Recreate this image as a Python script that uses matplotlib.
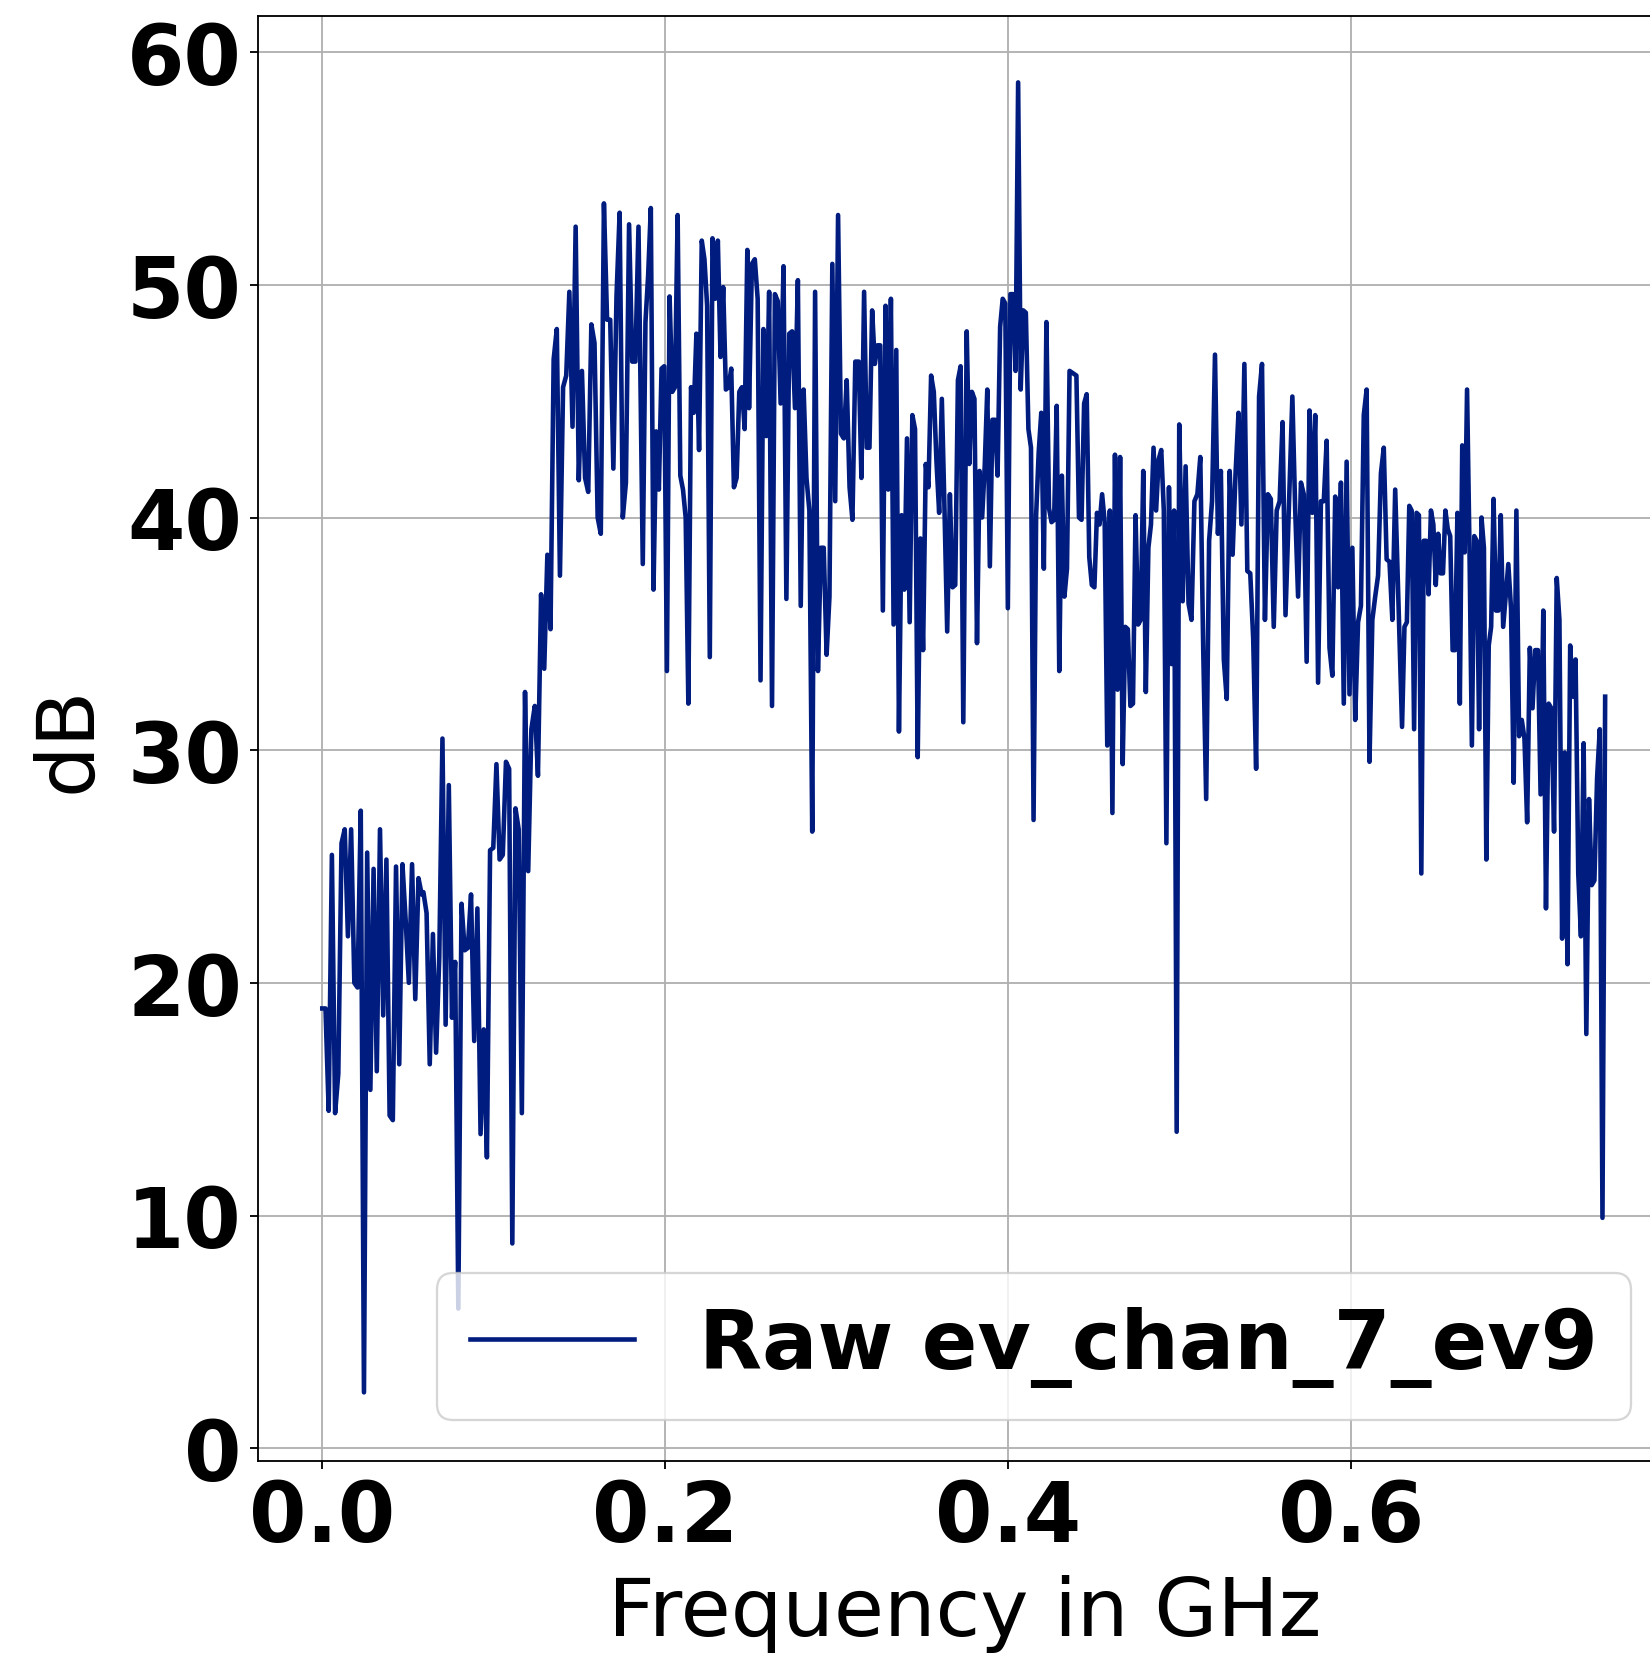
import matplotlib
matplotlib.use("Agg")
import matplotlib.pyplot as plt
import numpy as np

# dB values, one list per stretch of the frequency axis
seg_db = [
    [18.9, 18.9, 14.5, 25.5, 14.4, 16.1, 26.0, 26.6, 22.0, 26.6, 20.0, 19.8, 27.4, 2.4, 25.6, 15.4,
     24.9, 16.2, 26.6, 18.6, 25.3, 14.3, 14.1, 25.0, 16.5, 25.1, 22.7, 20.0, 25.1, 19.3, 24.5, 23.8],
    [23.9, 23.0, 16.5, 22.1, 17.0, 21.1, 30.5, 18.2, 28.5, 18.5, 20.9, 6.0, 23.4, 21.4, 21.5, 23.8,
     17.5, 23.2, 13.5, 18.0, 12.5, 25.7, 25.8, 29.4, 25.3, 25.5, 29.5, 29.2, 8.8, 27.5, 26.6, 14.4,
     32.5, 24.8, 30.9],
    [31.9, 28.9, 36.7, 33.5, 38.4, 35.2, 46.8, 48.1, 37.5, 45.6, 46.1, 49.7, 43.9, 52.5, 41.6, 46.3,
     41.7, 41.1, 48.3, 47.5, 40.0, 39.3, 53.5, 48.5, 48.5, 42.1, 49.5, 53.1, 40.0, 41.5, 52.6, 46.7,
     46.7, 52.5],
    [38.0, 48.4, 50.4, 53.3, 36.9, 43.7, 41.2, 46.4, 46.5, 33.4, 49.5, 45.4, 45.6, 53.0, 41.8, 41.2,
     40.0, 32.0, 45.6, 44.5, 47.9, 42.9, 51.9, 51.1, 49.1, 34.0, 52.0, 49.4, 51.9, 46.9, 49.9, 45.5,
     45.6, 46.4, 41.3, 41.7, 45.4, 45.6, 43.8, 51.5],
    [44.7, 50.9, 51.1, 49.4, 33.0, 48.1, 43.5, 49.7, 31.9, 49.6, 49.3, 44.9, 50.8, 36.5, 47.9, 48.0,
     44.7, 50.2, 36.2, 45.5, 41.7, 40.3, 26.5, 49.7, 33.4, 38.7, 38.7, 34.1, 36.6, 50.9, 40.7, 53.0,
     43.6, 43.4, 45.9, 41.3, 39.9, 46.7],
    [46.7, 41.7, 49.7, 43.0, 43.0, 48.9, 46.6, 47.4, 47.4, 36.0, 49.1, 41.2, 49.4, 35.4, 47.2, 30.8,
     40.1, 36.9, 43.4, 35.5, 44.4, 43.8, 29.7, 39.1, 34.3, 42.3, 41.3, 46.1, 45.4, 42.4, 40.2, 45.1,
     40.3, 35.1, 41.0, 37.0, 37.1, 45.9, 46.5, 31.2],
    [48.0, 42.3, 45.4, 45.1, 34.6, 42.0, 40.0, 42.2, 45.5, 37.9, 44.2, 44.2, 41.8, 48.2, 49.4, 49.2,
     36.1, 49.6, 49.6, 46.3, 58.7, 45.5, 48.9, 48.8, 43.8, 43.0, 27.0, 40.1, 42.8, 44.5, 37.8, 48.4,
     40.4, 39.8, 39.9, 44.8, 33.4, 41.8, 36.6, 37.8, 46.3],
    [46.1, 40.0, 39.9, 44.9, 45.3, 38.3, 37.1, 37.0, 40.2, 39.7, 41.0, 39.8, 30.2, 40.3, 27.3, 42.7,
     32.6, 42.6, 29.4, 35.3, 35.2, 31.9, 32.0, 40.1, 35.4, 35.6, 42.0, 32.5, 38.7, 39.7, 43.0, 40.3,
     42.5, 42.9, 40.3, 26.0, 41.3, 33.7, 40.3, 13.6, 44.0],
    [36.4, 42.2, 36.3, 35.6, 40.7, 41.0, 42.6, 34.3, 27.9, 39.0, 40.7, 47.0, 39.3, 42.0, 33.9, 32.2,
     42.0, 38.4, 41.9, 44.5, 39.7, 46.6, 37.7, 37.6, 34.8, 29.2, 45.2, 46.6, 35.6, 41.0, 40.8, 35.3,
     40.3, 40.7, 44.1, 35.8],
    [45.2, 40.3, 36.6, 41.5, 41.0, 33.8, 44.6, 40.2, 44.4, 32.9, 40.7, 40.7, 43.3, 34.4, 33.2, 40.9,
     37.0, 41.5, 32.0, 42.4, 32.4, 38.7, 31.3, 35.5, 36.2, 44.4, 45.5, 29.5, 35.6, 36.6, 37.5, 41.9,
     43.0, 38.2, 38.1, 35.6, 41.2],
    [31.0, 35.3, 35.5, 40.5, 40.3, 30.9, 40.2, 40.1, 24.7, 39.0, 39.0, 36.7, 40.3, 39.7, 37.1, 39.3,
     37.6, 37.6, 40.3, 39.5, 39.2, 34.3, 34.3, 40.2, 32.0, 43.1, 38.5, 45.5, 38.7, 30.2, 39.2, 39.0,
     30.9, 40.0, 38.7, 25.3, 34.5, 35.3, 40.8, 36.0, 36.0, 40.1, 35.3],
    [38.0, 36.1, 28.6, 40.3, 30.6, 31.3, 30.5, 26.9, 34.4, 31.8, 34.3, 34.3, 28.1, 36.0, 23.2, 32.0,
     31.8, 26.5, 37.4, 35.6, 21.9, 29.9, 20.8, 34.5, 32.3, 33.9, 24.7, 22.0, 30.3, 17.8, 27.9, 24.2,
     24.4, 28.8, 30.9, 9.9, 32.3],
]
# first / last frequency (GHz) of each stretch
seg_start = [0.0, 0.059, 0.124, 0.187, 0.249, 0.313, 0.376, 0.440, 0.502, 0.566, 0.630, 0.692]
seg_stop = [0.058, 0.122, 0.1845, 0.248, 0.311, 0.374, 0.436, 0.500, 0.562, 0.626, 0.689, 0.7485]

label = "Raw ev_chan_7_ev9"

freq = np.concatenate([np.linspace(a, b, len(s)) for a, b, s in zip(seg_start, seg_stop, seg_db)])
db = np.concatenate([np.array(s) for s in seg_db])

fig = plt.figure(figsize=(10, 10.048), dpi=165)
ax = fig.add_axes([258 / 1650, 1 - 1462 / 1658, 1414 / 1650, (1462 - 17) / 1658])

ax.plot(freq, db, color='#001c7f', linewidth=2.0, label=label)

ax.set_xlim(-0.0375, 0.7875)
ax.set_ylim(-0.55, 61.55)
ax.set_xticks([0.0, 0.2, 0.4, 0.6])
ax.set_yticks([0, 10, 20, 30, 40, 50, 60])
ax.grid(True)

for t in ax.get_xticklabels() + ax.get_yticklabels():
    t.set_fontsize(36)
    t.set_fontweight('bold')

ax.set_xlabel('Frequency in GHz', fontsize=35.5, labelpad=7)
ax.set_ylabel('dB', fontsize=35.5, labelpad=8.5)
ax.legend(loc='lower right', prop={'weight': 'bold', 'size': 35.8})

fig.savefig("out.png", dpi=165)
